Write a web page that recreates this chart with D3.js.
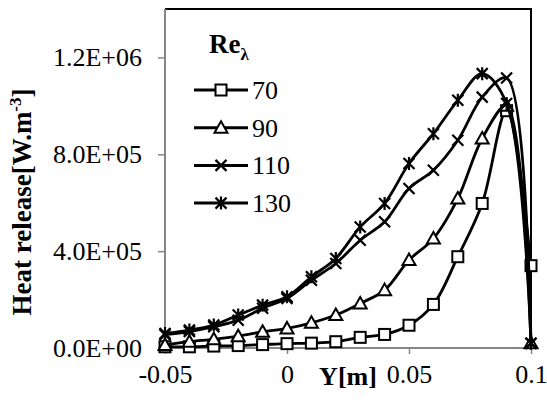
<!DOCTYPE html>
<html>
<head>
  <meta charset="utf-8">
  <title>Heat release</title>
  <script src="https://cdnjs.cloudflare.com/ajax/libs/d3/7.8.5/d3.min.js"></script>
  <style>
    body { margin: 0; background: #fff; }
    svg text { font-family: "Liberation Serif", "Times New Roman", serif; fill: #000; }
    .tick text { font-size: 26px; }
  </style>
</head>
<body>
  <script>
    var yPos = [-0.05, -0.04, -0.03, -0.02, -0.01, 0, 0.01, 0.02, 0.03, 0.04, 0.05, 0.06, 0.07, 0.08, 0.09, 0.1];
    var re70 = [5e3, 5e3, 8e3, 1.0e4, 1.4e4, 1.8e4, 2.0e4, 2.6e4, 4.4e4, 5.6e4, 9.4e4, 1.8e5, 3.77e5, 5.97e5, 9.8e5, 3.4e5];
    var re90 = [1.2e4, 2.6e4, 3.6e4, 4.9e4, 6.7e4, 8.1e4, 1.04e5, 1.36e5, 1.84e5, 2.39e5, 3.63e5, 4.52e5, 6.17e5, 8.65e5, 1.0e6, 2e4];
    var re110 = [5.5e4, 6.8e4, 8.8e4, 1.15e5, 1.64e5, 2.05e5, 2.8e5, 3.49e5, 4.45e5, 5.21e5, 6.59e5, 7.34e5, 8.58e5, 1.036e6, 1.115e6, 2e4];
    var re130 = [6e4, 7.4e4, 9.5e4, 1.36e5, 1.77e5, 2.12e5, 2.94e5, 3.7e5, 5.0e5, 5.97e5, 7.62e5, 8.85e5, 1.023e6, 1.133e6, 1.01e6, 2e4];
    var seriesNames = ["70", "90", "110", "130"];
    var markers = ["square", "triangle", "cross", "star"];
    var xTicks = [-0.05, 0, 0.05, 0.1];
    var xTickLabels = ["-0.05", "0", "0.05", "0.1"];
    var yTicks = [0, 4e5, 8e5, 1.2e6];
    var yTickLabels = ["0.0E+00", "4.0E+05", "8.0E+05", "1.2E+06"];

    var allSeries = [re70, re90, re110, re130];

    var W = 547, H = 401;
    var plot = {left: 165, right: 531, top: 9, bottom: 348};

    var svg = d3.select("body").append("svg")
        .attr("width", W)
        .attr("height", H);

    var x = d3.scaleLinear().domain([-0.05, 0.1]).range([plot.left, plot.right]);
    var y = d3.scaleLinear().domain([0, 1.4e6]).range([plot.bottom, plot.top]);

    // frame (top + right black)
    svg.append("path")
        .attr("d", "M" + plot.left + "," + plot.top + "H" + plot.right + "V" + plot.bottom)
        .attr("fill", "none")
        .attr("stroke", "#000")
        .attr("stroke-width", 2);

    var xAxis = svg.append("g")
        .attr("transform", "translate(0," + plot.bottom + ")")
        .call(d3.axisBottom(x).tickValues(xTicks)
          .tickFormat((d, i) => xTickLabels[i])
          .tickSizeOuter(0).tickSize(6).tickPadding(11));

    var yAxis = svg.append("g")
        .attr("transform", "translate(" + plot.left + ",0)")
        .call(d3.axisLeft(y).tickValues(yTicks)
          .tickFormat((d, i) => yTickLabels[i])
          .tickSizeOuter(0).tickSize(7).tickPadding(16));

    [xAxis, yAxis].forEach(function(a) {
      a.select(".domain").attr("stroke", "#868686").attr("stroke-width", 2);
      a.selectAll(".tick line").attr("stroke", "#868686").attr("stroke-width", 1.5);
      a.attr("font-family", null).attr("font-size", null);
    });
    xAxis.select(".domain").attr("d", "M" + plot.left + ",0H" + plot.right);
    yAxis.select(".domain").attr("d", "M0," + plot.top + "V" + plot.bottom);

    var line = d3.line()
        .x((d, i) => x(yPos[i]))
        .y(d => y(d))
        .curve(d3.curveCatmullRom.alpha(0.5));

    function drawMarker(g, type, cx, cy) {
      var s = 5.5;
      if (type === "square") {
        g.append("rect").attr("x", cx - s).attr("y", cy - s)
          .attr("width", 2 * s).attr("height", 2 * s)
          .attr("fill", "#fff").attr("stroke", "#000").attr("stroke-width", 2);
      } else if (type === "triangle") {
        g.append("path")
          .attr("d", "M" + cx + "," + (cy - 6.5) + "L" + (cx + 6.5) + "," + (cy + 5) + "L" + (cx - 6.5) + "," + (cy + 5) + "Z")
          .attr("fill", "#fff").attr("stroke", "#000").attr("stroke-width", 2);
      } else if (type === "cross") {
        g.append("path")
          .attr("d", "M" + (cx - s) + "," + (cy - s) + "L" + (cx + s) + "," + (cy + s) +
                     "M" + (cx + s) + "," + (cy - s) + "L" + (cx - s) + "," + (cy + s))
          .attr("stroke", "#000").attr("stroke-width", 2.2);
      } else {
        g.append("path")
          .attr("d", "M" + (cx - s) + "," + (cy - s) + "L" + (cx + s) + "," + (cy + s) +
                     "M" + (cx + s) + "," + (cy - s) + "L" + (cx - s) + "," + (cy + s) +
                     "M" + cx + "," + (cy - s - 1) + "L" + cx + "," + (cy + s + 1))
          .attr("stroke", "#000").attr("stroke-width", 2.2);
      }
    }

    allSeries.forEach(function(vals, k) {
      var g = svg.append("g");
      g.append("path")
        .attr("d", line(vals))
        .attr("fill", "none")
        .attr("stroke", "#000")
        .attr("stroke-width", 2.8);
      vals.forEach(function(v, i) {
        drawMarker(g, markers[k], x(yPos[i]), y(v));
      });
    });

    // legend
    var title = svg.append("text")
        .attr("x", 209).attr("y", 53)
        .attr("font-size", 27).attr("font-weight", "bold");
    title.append("tspan").text("Re");
    title.append("tspan").attr("font-size", 17).attr("dy", 7).text("λ");

    seriesNames.forEach(function(name, k) {
      var ly = 90 + k * 37.7;
      var g = svg.append("g");
      g.append("line").attr("x1", 194).attr("x2", 248).attr("y1", ly).attr("y2", ly)
        .attr("stroke", "#000").attr("stroke-width", 3);
      drawMarker(g, markers[k], 221, ly);
      g.append("text").attr("x", 252).attr("y", ly + 9)
        .attr("font-size", 26).text(name);
    });

    // axis titles
    svg.append("text")
        .attr("x", 348).attr("y", 385)
        .attr("text-anchor", "middle")
        .attr("font-size", 26).attr("font-weight", "bold")
        .text("Y[m]");

    var yt = svg.append("text")
        .attr("transform", "translate(31,202) rotate(-90)")
        .attr("text-anchor", "middle")
        .attr("font-size", 27).attr("font-weight", "bold");
    yt.append("tspan").text("Heat release[W.m");
    yt.append("tspan").attr("font-size", 17).attr("dy", -10).text("-3");
    yt.append("tspan").attr("dy", 10).text("]");
  </script>
</body>
</html>
